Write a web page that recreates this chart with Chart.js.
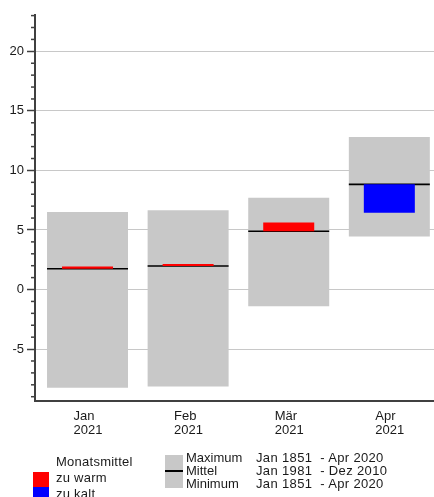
<!DOCTYPE html>
<html><head><meta charset="utf-8">
<script src="https://cdn.jsdelivr.net/npm/chart.js@4/dist/chart.umd.min.js"></script>
<style>
html,body{margin:0;padding:0;background:#fff;overflow:hidden}
#wrap{position:relative;width:434px;height:497px;overflow:hidden;background:#fff}
canvas{position:absolute;left:0;top:0}
.t{position:absolute;font-family:"Liberation Sans",Arial,sans-serif;font-size:13px;color:#1a1a1a;white-space:pre}
.b{position:absolute}
</style></head><body>
<div id="wrap">
<canvas id="c" width="434" height="497"></canvas>
<div class="t" style="left:56px;top:454px;line-height:16px;letter-spacing:0.25px">Monatsmittel<br>zu warm<br>zu kalt</div>
<div class="b" style="left:33px;top:472px;width:16px;height:15px;background:#ff0000"></div>
<div class="b" style="left:33px;top:487px;width:16px;height:15px;background:#0000ff"></div>
<div class="b" style="left:165px;top:455px;width:18px;height:33px;background:#c8c8c8"></div>
<div class="b" style="left:165px;top:470px;width:18px;height:1.5px;background:#000"></div>
<div class="t" style="left:186px;top:451px;line-height:13px">Maximum<br>Mittel<br>Minimum</div>
<div class="t" style="left:256px;top:451px;line-height:13px;letter-spacing:0.35px">Jan 1851  - Apr 2020<br>Jan 1981  - Dez 2010<br>Jan 1851  - Apr 2020</div>
</div>
<script>
const months = ['Jan', 'Feb', 'Mär', 'Apr'];
const years = ['2021', '2021', '2021', '2021'];
const maxVals = [6.5, 6.65, 7.7, 12.8];
const minVals = [-8.25, -8.15, -1.4, 4.45];
const meanVals = [1.75, 1.98, 4.9, 8.83];
const monthVals = [1.93, 2.15, 5.62, 6.45];

Chart.defaults.font.family = '"Liberation Sans", Arial, sans-serif';
const idx = months.map((_, i) => i);
const meanHalf = 0.065;

const minorTicks = {
  id: 'minorTicks',
  afterDraw(chart) {
    const s = chart.scales.y, c = chart.ctx;
    c.save();
    c.strokeStyle = '#404040';
    c.lineWidth = 1.5;
    for (let v = Math.ceil(s.min); v <= Math.floor(s.max); v++) {
      if (v % 5 === 0) continue;
      const y = s.getPixelForValue(v);
      c.beginPath();
      c.moveTo(s.right - 4, y);
      c.lineTo(s.right, y);
      c.stroke();
    }
    c.restore();
  }
};

new Chart(document.getElementById('c'), {
  type: 'bar',
  data: {
    datasets: [
      {
        label: 'Spanne',
        data: idx.map(i => ({x: i, y: [minVals[i], maxVals[i]]})),
        backgroundColor: '#c8c8c8',
        barPercentage: 0.805, categoryPercentage: 1, order: 3
      },
      {
        label: 'Mittel',
        data: idx.map(i => ({x: i, y: [meanVals[i] - meanHalf, meanVals[i] + meanHalf]})),
        backgroundColor: '#000000',
        barPercentage: 0.805, categoryPercentage: 1, order: 2
      },
      {
        label: 'Monatsmittel',
        data: idx.map(i => ({x: i, y: [meanVals[i], monthVals[i]]})),
        backgroundColor: idx.map(i => monthVals[i] >= meanVals[i] ? '#ff0000' : '#0000ff'),
        barPercentage: 0.507, categoryPercentage: 1, order: 1
      }
    ]
  },
  options: {
    responsive: false,
    animation: false,
    events: [],
    datasets: {bar: {grouped: false, borderWidth: 0}},
    layout: {padding: {top: 15, left: 0, right: 0, bottom: 0}},
    plugins: {legend: {display: false}, tooltip: {enabled: false}},
    scales: {
      x: {
        type: 'linear', min: -0.522, max: 3.444, offset: false,
        grid: {display: false, drawTicks: false},
        border: {display: true, color: '#404040', width: 2},
        ticks: {
          stepSize: 1, includeBounds: false, autoSkip: false, maxRotation: 0, minRotation: 0,
          align: 'start', labelOffset: -14, padding: 8, color: '#1a1a1a',
          font: {size: 13, lineHeight: 1.12},
          callback: v => (Number.isInteger(v) && v >= 0 && v < months.length) ? [months[v], years[v]] : ''
        },
        afterFit: s => { s.height = 96; }
      },
      y: {
        min: -9.36, max: 23.05,
        grid: {
          color: c => (c.tick && c.tick.value % 5 === 0) ? '#c8c8c8' : 'rgba(0,0,0,0)',
          tickColor: c => (c.tick && c.tick.value % 5 === 0) ? '#404040' : 'rgba(0,0,0,0)',
          tickLength: 8, tickWidth: 1.5, lineWidth: 1
        },
        border: {color: '#404040', width: 2},
        ticks: {
          stepSize: 1, includeBounds: false, autoSkip: false, padding: 3, color: '#1a1a1a',
          font: {size: 13},
          callback: v => (v % 5 === 0) ? String(v) : ''
        },
        afterFit: s => { s.width = 35; }
      }
    }
  },
  plugins: [minorTicks]
});
</script>
</body></html>
